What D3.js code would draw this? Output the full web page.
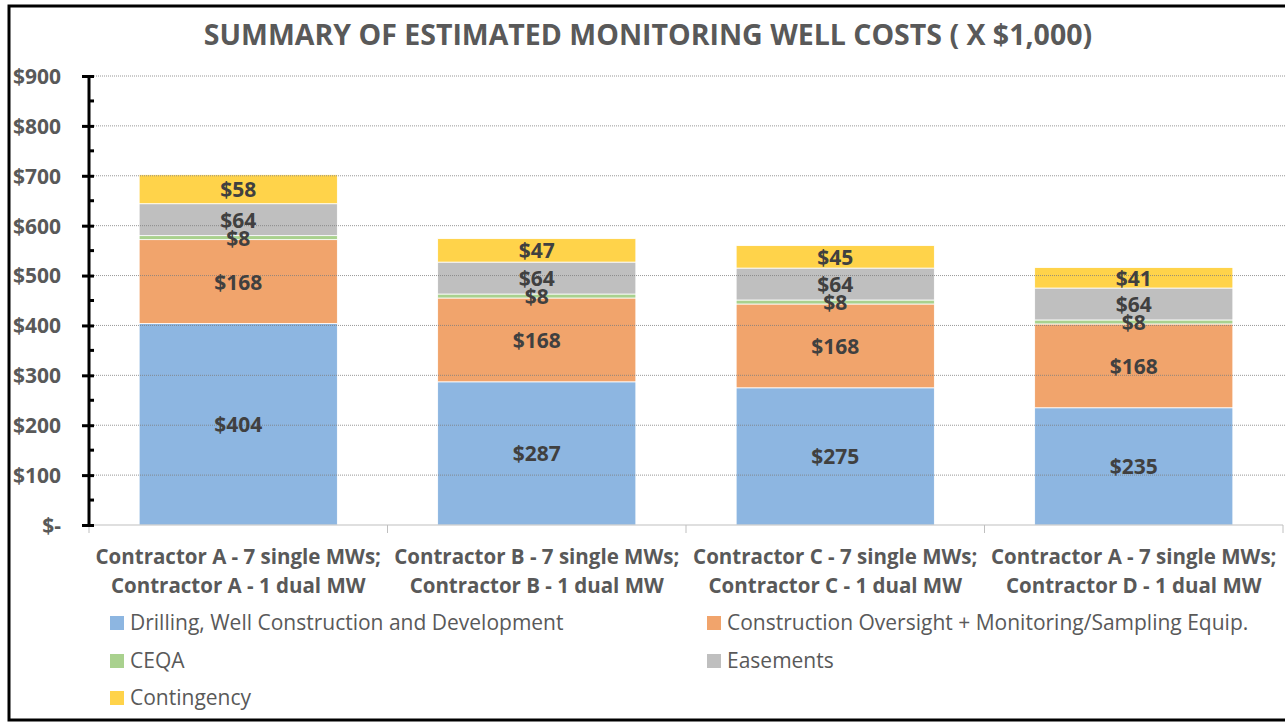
<!DOCTYPE html>
<html>
<head>
<meta charset="utf-8">
<script src="https://cdn.jsdelivr.net/npm/d3@7"></script>
<style>
  body { margin: 0; background: #fff; }
  svg { display: block; font-family: "Open Sans", Lato, sans-serif; }
</style>
</head>
<body>
<div id="chart"></div>
<script>
// data
const categories = [
  ['Contractor A - 7 single MWs;', 'Contractor A - 1 dual MW'],
  ['Contractor B - 7 single MWs;', 'Contractor B - 1 dual MW'],
  ['Contractor C - 7 single MWs;', 'Contractor C - 1 dual MW'],
  ['Contractor A - 7 single MWs;', 'Contractor D - 1 dual MW'],
];
const seriesNames = [
  'Drilling, Well Construction and Development',
  'Construction Oversight + Monitoring/Sampling Equip.',
  'CEQA',
  'Easements',
  'Contingency',
];
const drilling = [404, 287, 275, 235];
const oversight = [168, 168, 168, 168];
const ceqa = [8, 8, 8, 8];
const easements = [64, 64, 64, 64];
const contingency = [58, 47, 45, 41];
const yTicks = [0, 100, 200, 300, 400, 500, 600, 700, 800, 900];

const colors = ['#8db6e1', '#f1a46c', '#a9d18e', '#bfbfbf', '#ffd34a'];
const seriesValues = [drilling, oversight, ceqa, easements, contingency];

const W = 1285, H = 723;
const margin = { top: 76, right: 2, bottom: 198, left: 89 };
const width = W - margin.left - margin.right;
const height = H - margin.top - margin.bottom;

const svg = d3.select('#chart').append('svg')
  .attr('width', W).attr('height', H);

// outer frame
svg.append('rect')
  .attr('x', 9).attr('y', 6)
  .attr('width', W + 10).attr('height', 714)
  .attr('fill', 'none').attr('stroke', '#000').attr('stroke-width', 3);

// title
svg.append('text')
  .attr('x', 648).attr('y', 45)
  .attr('text-anchor', 'middle')
  .style('font-size', '28.5px').style('font-weight', 'bold')
  .attr('fill', '#595959')
  .text('SUMMARY OF ESTIMATED MONITORING WELL COSTS ( X $1,000)');

const g = svg.append('g').attr('transform', `translate(${margin.left},${margin.top})`);

const x = d3.scaleBand()
  .domain(d3.range(categories.length))
  .range([0, width])
  .paddingInner(0.336)
  .paddingOuter(0.168);

const y = d3.scaleLinear().domain([0, 900]).range([height, 0]);

// stacked data
const table = categories.map((c, i) => {
  const row = { i };
  seriesNames.forEach((s, j) => { row[s] = seriesValues[j][i]; });
  return row;
});
const stacked = d3.stack().keys(seriesNames)(table);

// bars
const layers = g.selectAll('.layer').data(stacked).enter().append('g')
  .attr('fill', (d, j) => colors[j]);
layers.selectAll('rect').data(d => d).enter().append('rect')
  .attr('x', d => x(d.data.i))
  .attr('y', d => y(d[1]))
  .attr('width', x.bandwidth())
  .attr('height', d => y(d[0]) - y(d[1]))
  .attr('stroke', '#fff').attr('stroke-width', 0.8);

// gridlines (drawn over bars, as in the source)
g.append('g').selectAll('line').data(yTicks.slice(1)).enter().append('line')
  .attr('x1', 5).attr('x2', width + 10)
  .attr('y1', d => y(d)).attr('y2', d => y(d))
  .attr('stroke', '#7f7f7f').attr('stroke-width', 1)
  .attr('stroke-dasharray', '1,1').attr('opacity', 0.8);

// x axis baseline and ticks
g.append('line')
  .attr('x1', 0).attr('x2', width)
  .attr('y1', height).attr('y2', height)
  .attr('stroke', '#bfbfbf').attr('stroke-width', 1);
g.append('g').selectAll('line').data(d3.range(categories.length + 1)).enter().append('line')
  .attr('x1', d => d * width / categories.length).attr('x2', d => d * width / categories.length)
  .attr('y1', height).attr('y2', height + 8)
  .attr('stroke', '#bfbfbf').attr('stroke-width', 1);

// value labels, on top of all segments
const labels = g.append('g');
stacked.forEach(layer => {
  labels.selectAll(null).data(layer).enter().append('text')
    .attr('x', d => x(d.data.i) + x.bandwidth() / 2)
    .attr('y', d => (y(d[0]) + y(d[1])) / 2 + 8)
    .attr('text-anchor', 'middle')
    .style('font-size', '21px').style('font-weight', 'bold')
    .attr('fill', '#404040')
    .text(d => '$' + (d[1] - d[0]));
});

// y axis
const yAxis = g.append('g')
  .call(d3.axisLeft(y).tickValues(yTicks).tickSize(7).tickFormat(d => d === 0 ? '$-' : '$' + d));
yAxis.select('.domain').attr('stroke', '#000').attr('stroke-width', 3)
  .attr('d', `M0,${height + 1}V0`);
yAxis.selectAll('.tick line').attr('stroke', '#000').attr('stroke-width', 3).attr('x1', 5);
yAxis.selectAll('.tick text')
  .attr('x', -28).attr('dy', '0.35em')
  .style('font-size', '21px').style('font-weight', 'bold')
  .style('font-family', '"Open Sans", Lato, sans-serif')
  .attr('fill', '#595959');
// minor ticks
g.append('g').selectAll('line').data(d3.range(50, 900, 100)).enter().append('line')
  .attr('x1', 0).attr('x2', 5)
  .attr('y1', d => y(d)).attr('y2', d => y(d))
  .attr('stroke', '#000').attr('stroke-width', 3);

// category labels
const cat = g.append('g').selectAll('text').data(categories).enter().append('text')
  .attr('text-anchor', 'middle')
  .style('font-size', '20.5px').style('font-weight', 'bold')
  .attr('fill', '#595959');
cat.selectAll('tspan').data((d, i) => d.map(t => ({ t, i }))).enter().append('tspan')
  .attr('x', d => x(d.i) + x.bandwidth() / 2)
  .attr('y', (d, k) => height + 39 + k * 29)
  .text(d => d.t);

// legend
const legendPos = [[110, 623], [707, 623], [110, 661], [707, 661], [110, 698]];
const legend = svg.append('g').selectAll('g').data(seriesNames).enter().append('g')
  .attr('transform', (d, j) => `translate(${legendPos[j][0]},${legendPos[j][1]})`);
legend.append('rect')
  .attr('x', 0).attr('y', -7).attr('width', 14).attr('height', 14)
  .attr('fill', (d, j) => colors[j]);
legend.append('text')
  .attr('x', 20).attr('y', 7)
  .style('font-size', '21px')
  .attr('fill', '#595959')
  .text(d => d);
</script>
</body>
</html>
